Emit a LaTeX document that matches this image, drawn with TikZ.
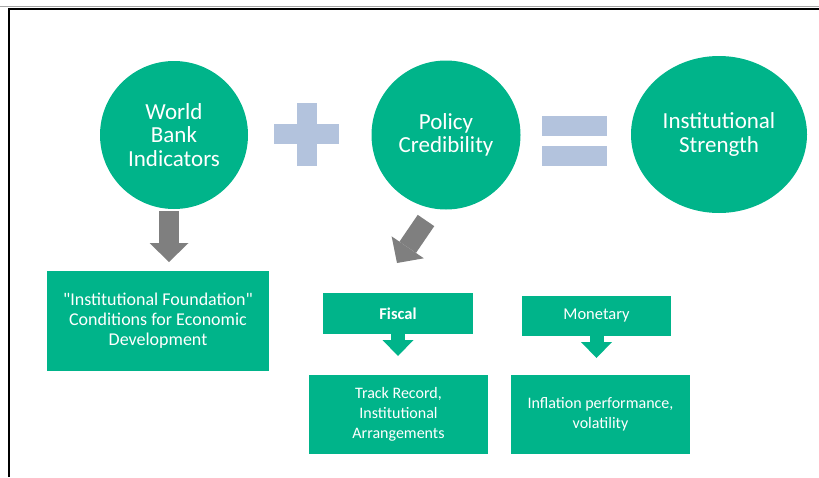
\documentclass[tikz,border=0pt]{standalone}
\usepackage{fontspec}
\setmainfont{Carlito}
\usetikzlibrary{arrows.meta,shapes.geometric}

\definecolor{instgreen}{HTML}{00B48A}
\definecolor{opblue}{HTML}{B3C3DD}
\definecolor{pointgray}{HTML}{7F7F7F}

\begin{document}
\begin{tikzpicture}[
      x=1pt, y=-1pt,
      bubble/.style = {fill=instgreen, text=white, align=center, inner sep=0pt,
                       font=\fontsize{23}{23.5}\selectfont},
      box/.style    = {fill=instgreen, text=white, align=center, inner sep=0pt},
      bigarrow/.style = {draw=pointgray, line width=20pt,
                       -{Triangle[length=19pt 0 0, width=39pt 0 0, line width=0pt]}},
      smallarrow/.style = {draw=instgreen, line width=14pt,
                       -{Triangle[length=16pt 0 0, width=31pt 0 0, line width=0pt]}},
    ]
    \useasboundingbox (0,0) rectangle (819,477);

    % frame
    \draw[black!35, line width=0.8pt] (0,6.5) -- (819,6.5);
    \draw[line width=2pt] (8.5,477) -- (8.5,9) -- (819,9);

    % top row: indicators + credibility = strength
    \node[bubble, circle, minimum size=148pt] (wbi) at (174,135)
      {World\\Bank\\Indicators};
    \node[bubble, circle, minimum size=149pt] (cred) at (446,135)
      {Policy\\Credibility};
    \node[bubble, ellipse, minimum width=176pt, minimum height=157pt] (inst)
      at (719,134.5) {Institutional\\Strength};

    \fill[opblue] (274,124) rectangle (339,144);
    \fill[opblue] (297,103) rectangle (317,166);
    \fill[opblue] (542,116) rectangle (607,136);
    \fill[opblue] (542,146) rectangle (607,166);

    % lower boxes
    \node[box, minimum width=222pt, minimum height=100pt,
          font=\fontsize{18}{20}\selectfont] (found) at (158,321)
      {\textquotedbl Institutional Foundation\textquotedbl\\Conditions for Economic\\Development};
    \node[box, minimum width=150pt, minimum height=41pt,
          font=\fontsize{16.5}{20}\selectfont\bfseries] (fis) at (398,313.5) {Fiscal};
    \node[box, minimum width=149pt, minimum height=40pt,
          font=\fontsize{16.5}{20}\selectfont] (mon) at (596.5,316) {Monetary};
    \node[box, minimum width=179pt, minimum height=79pt,
          font=\fontsize{16}{20}\selectfont] (track) at (398.5,414.5)
      {Track Record,\\Institutional\\Arrangements};
    \node[box, minimum width=179pt, minimum height=79pt,
          font=\fontsize{16}{20}\selectfont] (infl) at (600.5,414.5)
      {Inflation performance,\\volatility};

    % arrow ends
    \coordinate (wbiout) at (169,211);
    \coordinate (foundin) at (169,262);
    \coordinate (credout) at (426,220.5);
    \coordinate (fisin) at (397,263);
    \coordinate (trackin) at (398,356);
    \coordinate (inflin) at (596.5,358);

    \draw[bigarrow] (wbiout) -- (foundin);
    \draw[bigarrow] (credout) -- (fisin);
    \draw[smallarrow] (fis.south) -- (trackin);
    \draw[smallarrow] (mon.south) -- (inflin);
  \end{tikzpicture}
\end{document}
